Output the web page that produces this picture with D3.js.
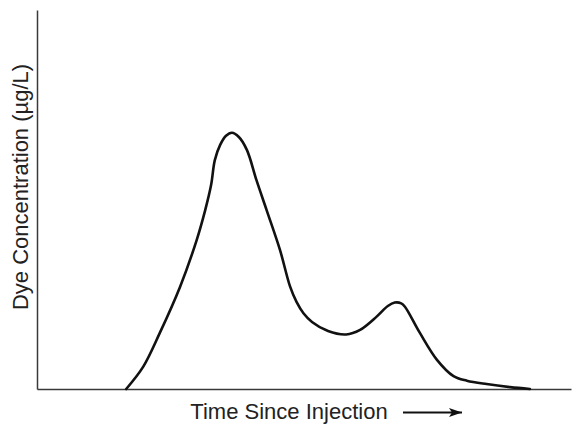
<!DOCTYPE html>
<html>
<head>
<meta charset="utf-8">
<script src="https://cdn.jsdelivr.net/npm/d3@7"></script>
<style>
  html, body { margin: 0; padding: 0; background: #fff; }
  svg { display: block; }
</style>
</head>
<body>
<svg id="chart" width="574" height="424"></svg>
<script>
// Data (arbitrary units: time 0-100, concentration 0-100)
const timeValues = [16.7, 19.9, 23.0, 26.8, 29.9, 31.5, 32.6, 33.3, 34.3, 35.4, 36.5, 37.8, 39.3, 41.1, 43.0, 45.5, 47.4, 48.6, 49.9, 51.5, 54.5, 57.9, 60.5, 63.6, 65.7, 67.0, 68.2, 68.9, 71.7, 74.9, 78.0, 80.5, 84.2, 88.6, 92.3];
const concValues = [0, 5.9, 14.8, 27.0, 39.3, 47.2, 53.8, 60.4, 64.4, 66.8, 67.6, 66.5, 63.1, 55.1, 47.2, 36.7, 27.0, 23.0, 20.0, 17.7, 15.3, 14.4, 15.6, 19.1, 21.9, 22.8, 22.6, 21.7, 14.8, 7.7, 3.4, 2.2, 1.3, 0.5, 0];
const xLabel = "Time Since Injection";
const yLabel = "Dye Concentration (µg/L)";

(function () {
  const svg = d3.select("#chart");
  const mLeft = 37, mRight = 571, mTop = 10, mBottom = 389;

  const x = d3.scaleLinear().domain([0, 100]).range([mLeft, mRight]);
  const y = d3.scaleLinear().domain([0, 100]).range([mBottom, mTop]);

  // axes (no ticks)
  const xAxis = d3.axisBottom(x).tickValues([]).tickSizeOuter(0);
  const yAxis = d3.axisLeft(y).tickValues([]).tickSizeOuter(0);
  svg.append("g").attr("transform", `translate(0,${mBottom})`).call(xAxis)
    .select(".domain").attr("stroke", "#3a3a3a").attr("stroke-width", 1.5);
  svg.append("g").attr("transform", `translate(${mLeft},0)`).call(yAxis)
    .select(".domain").attr("stroke", "#3a3a3a").attr("stroke-width", 1.5);

  const data = timeValues.map((t, i) => ({ t, c: concValues[i] }));
  const line = d3.line().x(d => x(d.t)).y(d => y(d.c)).curve(d3.curveCatmullRom.alpha(0.5));
  svg.append("path").datum(data)
    .attr("d", line)
    .attr("fill", "none")
    .attr("stroke", "#111")
    .attr("stroke-width", 2.6)
    .attr("stroke-linejoin", "round")
    .attr("stroke-linecap", "round");

  // labels
  svg.append("text")
    .attr("x", 289).attr("y", 419)
    .attr("text-anchor", "middle")
    .attr("font-family", "Liberation Sans, Arial, sans-serif")
    .attr("font-size", "22px")
    .attr("fill", "#222")
    .text(xLabel);

  svg.append("text")
    .attr("transform", "translate(27.5,187) rotate(-90)")
    .attr("text-anchor", "middle")
    .attr("font-family", "Liberation Sans, Arial, sans-serif")
    .attr("font-size", "22px")
    .attr("fill", "#222")
    .text(yLabel);

  // arrow
  svg.append("defs").append("marker")
    .attr("id", "arrowhead")
    .attr("viewBox", "0 0 13 9")
    .attr("refX", 13).attr("refY", 4.5)
    .attr("markerWidth", 13).attr("markerHeight", 9)
    .attr("markerUnits", "userSpaceOnUse")
    .attr("orient", "auto")
    .append("path").attr("d", "M0,0 L13,4.5 L0,9 L3,4.5 Z").attr("fill", "#111");
  svg.append("line")
    .attr("x1", 403).attr("y1", 412.5).attr("x2", 462).attr("y2", 412.5)
    .attr("stroke", "#111").attr("stroke-width", 2.2)
    .attr("marker-end", "url(#arrowhead)");
})();
</script>
</body>
</html>
